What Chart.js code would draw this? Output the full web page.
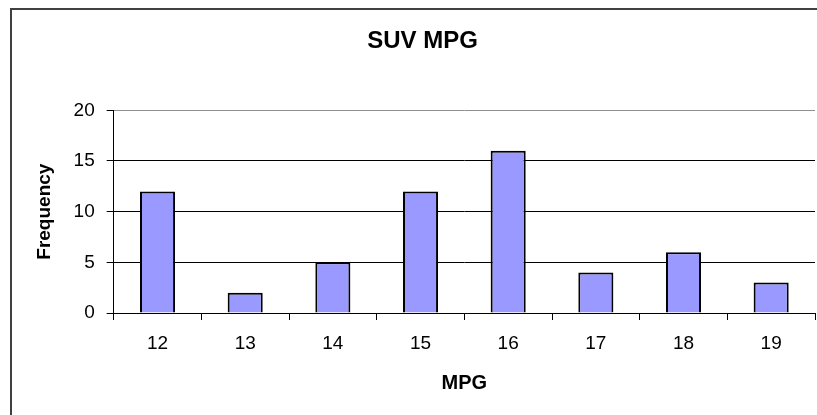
<!DOCTYPE html>
<html>
<head>
<meta charset="utf-8">
<script src="https://cdn.jsdelivr.net/npm/chart.js@4"></script>
<style>
    body { margin: 0; background: #fff; }
    #mpg-chart { display: block; }
</style>
</head>
<body>
<canvas id="mpg-chart" width="817" height="415"></canvas>
<script>
const mpgLabels = ['12', '13', '14', '15', '16', '17', '18', '19'];
const frequencies = [12, 2, 5, 12, 16, 4, 6, 3];
const chartTitle = 'SUV MPG';
const xTitle = 'MPG';
const yTitle = 'Frequency';

const fontFamily = '"Liberation Sans", Arial, sans-serif';

// outer chart frame, cut off on the right and bottom like the original
const frameBorder = {
    id: 'frameBorder',
    beforeDraw(chart) {
        const ctx = chart.ctx;
        ctx.save();
        ctx.fillStyle = '#fff';
        ctx.fillRect(0, 0, chart.width, chart.height);
        ctx.strokeStyle = '#404040';
        ctx.lineWidth = 2;
        ctx.beginPath();
        ctx.moveTo(11, chart.height);
        ctx.lineTo(11, 9);
        ctx.lineTo(chart.width, 9);
        ctx.stroke();
        ctx.restore();
    }
};

function drawMpgChart() {
    const ctx = document.getElementById('mpg-chart').getContext('2d');

    window.mpgChart = new Chart(ctx, {
        type: 'bar',
        data: {
            labels: mpgLabels,
            datasets: [{
                label: yTitle,
                data: frequencies,
                backgroundColor: '#9999FF',
                borderColor: '#000',
                borderWidth: 2,
                barPercentage: 0.4,
                categoryPercentage: 1
            }]
        },
        options: {
            responsive: false,
            animation: false,
            layout: {
                padding: { left: 30, right: 2, top: 0, bottom: 0 }
            },
            plugins: {
                legend: { display: false },
                tooltip: { enabled: false },
                title: {
                    display: true,
                    text: chartTitle,
                    color: '#000',
                    font: { family: fontFamily, size: 24, weight: 'bold', lineHeight: 1.2 },
                    padding: { top: 27.3, bottom: 54.2 }
                }
            },
            scales: {
                x: {
                    offset: true,
                    afterFit: scale => { scale.height = 102; },
                    border: { display: true, color: '#000', width: 1 },
                    grid: {
                        offset: true,
                        drawOnChartArea: true,
                        tickLength: 7,
                        tickColor: '#000',
                        lineWidth: 1,
                        color: c => c.index === mpgLabels.length ? '#808080' : 'rgba(0,0,0,0)'
                    },
                    ticks: {
                        color: '#000',
                        padding: 12,
                        font: { family: fontFamily, size: 19 }
                    },
                    title: {
                        display: true,
                        text: xTitle,
                        color: '#000',
                        font: { family: fontFamily, size: 20, weight: 'bold', lineHeight: 1.2 },
                        padding: { top: 0, bottom: 20 }
                    }
                },
                y: {
                    min: 0,
                    max: 20,
                    afterFit: scale => { scale.width = 83.7; },
                    border: { display: true, color: '#000', width: 1 },
                    grid: {
                        tickLength: 7,
                        tickColor: '#000',
                        lineWidth: 1,
                        color: c => c.tick && c.tick.value === 20 ? '#909090' : '#000'
                    },
                    ticks: {
                        stepSize: 5,
                        color: '#000',
                        padding: 12,
                        font: { family: fontFamily, size: 19 }
                    },
                    title: {
                        display: true,
                        text: yTitle,
                        color: '#000',
                        font: { family: fontFamily, size: 19, weight: 'bold', lineHeight: 1.2 },
                        padding: { top: 3.6, bottom: 0 }
                    }
                }
            }
        },
        plugins: [frameBorder]
    });
}

document.addEventListener('DOMContentLoaded', drawMpgChart);
</script>
</body>
</html>
